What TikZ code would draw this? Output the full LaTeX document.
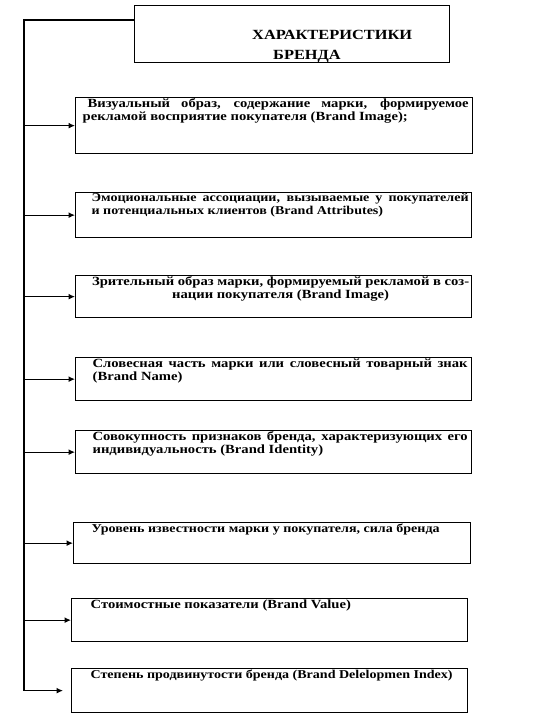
\documentclass[tikz,border=0pt]{standalone}
\usepackage{fontspec}
\setmainfont{Liberation Serif}[FakeStretch=1.17]
\usetikzlibrary{arrows.meta}
\newcommand\bodyfont{\fontsize{12.5}{12.8}\selectfont\bfseries}
\newcommand\smallerbody{\fontsize{12}{12.8}\selectfont}
\newcommand\ibox[5]{\parbox[c][#2pt][t]{#1pt}{\vspace*{1pt}\hspace*{#3pt}\parbox[t]{#4pt}{\bodyfont #5}}}
\tikzset{
  itembox/.style={draw, line width=1.3pt, inner sep=0pt, anchor=north west},
  titlebox/.style={draw, line width=1.4pt, inner sep=0pt, anchor=north west, minimum width=315pt, minimum height=57pt},
  conn/.style={line width=1.3pt},
  arr/.style={conn, -{Latex[length=6.5pt,width=6pt]}}
}
\begin{document}
\begin{tikzpicture}[x=1pt,y=-1pt]
\useasboundingbox[fill=white] (0,0) rectangle (534,722);
\node[titlebox] (title) at (134,5) {};
\node[anchor=north west, inner sep=0pt, align=left, font=\fontsize{14}{20}\selectfont\bfseries] (titletext) at (252,30) {ХАРАКТЕРИСТИКИ\\\hspace*{21pt}БРЕНДА};

\node[itembox] (b1) at (75,97) {\ibox{397}{56}{7}{386}{\hspace*{5pt}Визуальный образ, содержание марки, формируемое\linebreak рекламой восприятие покупателя (Brand Image);}};
\node[itembox] (b2) at (75,192) {\ibox{396}{45}{16}{377}{\smallerbody Эмоциональные ассоциации, вызываемые у покупателей\linebreak и потенциальных клиентов (Brand Attributes)}};
\node[itembox] (b3) at (75,275) {\ibox{396}{42}{16}{378}{\centering Зрительный образ марки, формируемый рекламой в соз-\\нации покупателя (Brand Image)}};
\node[itembox] (b4) at (75,357) {\ibox{396}{43}{17}{375}{Словесная часть марки или словесный товарный знак\linebreak (Brand Name)}};
\node[itembox] (b5) at (75,430) {\ibox{396}{43}{17}{375}{Совокупность признаков бренда, характеризующих его\linebreak индивидуальность (Brand Identity)}};
\node[itembox] (b6) at (73,522) {\ibox{397}{41}{18}{370}{\smallerbody Уровень известности марки у покупателя, сила бренда}};
\node[itembox] (b7) at (71,598) {\ibox{396}{43}{19}{370}{Стоимостные показатели (Brand Value)}};
\node[itembox] (b8) at (71,668) {\ibox{396}{44}{19}{372}{\smallerbody Степень продвинутости бренда (Brand Delelopmen Index)}};

\coordinate (top) at (24,20);
\coordinate (bottom) at (top |- b8.west);
\draw[conn] ([yshift=-15pt]title.north west) -- (top) -- (bottom);
\foreach \i in {1,...,7}{
  \draw[arr] (top |- b\i.west) -- (b\i.west);
}
\draw[arr, shorten >=8pt] (bottom) -- (b8.west);
\end{tikzpicture}
\end{document}
